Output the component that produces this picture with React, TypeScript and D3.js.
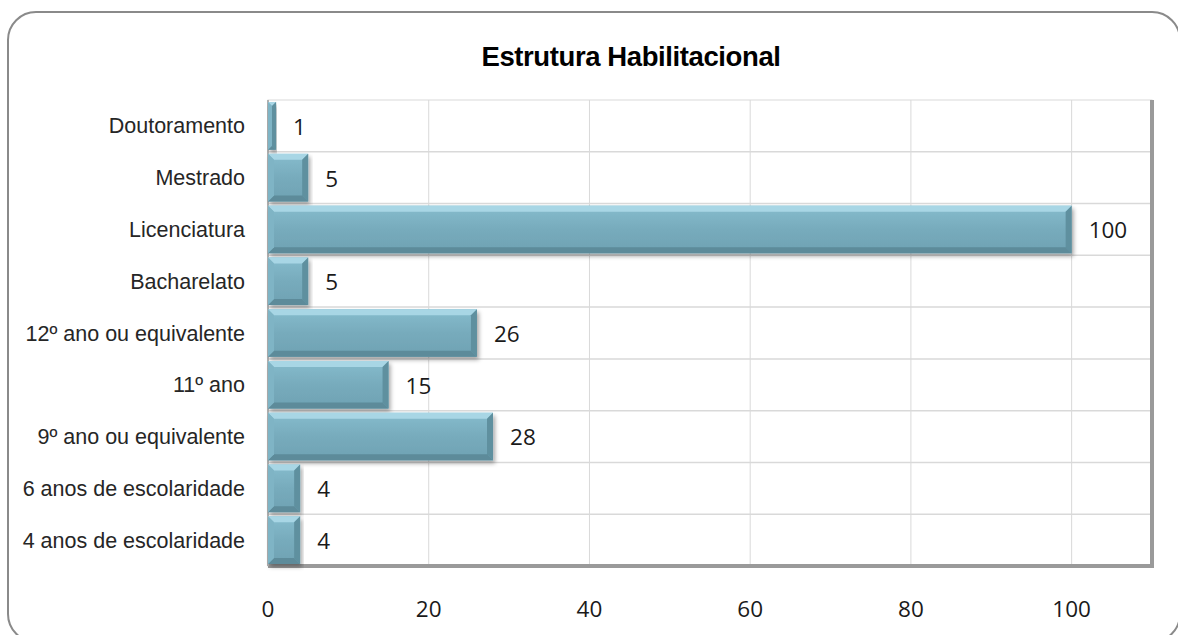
import React from "react";
import * as d3 from "d3";

const categories = [
  "Doutoramento",
  "Mestrado",
  "Licenciatura",
  "Bacharelato",
  "12º ano ou equivalente",
  "11º ano",
  "9º ano ou equivalente",
  "6 anos de escolaridade",
  "4 anos de escolaridade",
];
const values = [1, 5, 100, 5, 26, 15, 28, 4, 4];
const ticks = [0, 20, 40, 60, 80, 100];
const title = "Estrutura Habilitacional";

const W = 1178;
const H = 635;
const plot = { left: 268, right: 1152, top: 100, bottom: 566 };

export default function App() {
  const x = d3.scaleLinear().domain([0, 110]).range([plot.left, plot.right]);
  const y = d3
    .scaleBand<string>()
    .domain(categories)
    .range([plot.top, plot.bottom])
    .paddingInner(0.08)
    .paddingOuter(0.04);
  const rows = d3.scaleBand<string>().domain(categories).range([plot.top, plot.bottom]);
  const bev = 6;
  const arial = "Liberation Sans, Arial, sans-serif";
  const cal = "Open Sans, Lato, sans-serif";

  return (
    <svg width={W} height={H} style={{ position: "absolute", left: 0, top: 0 }}>
      <defs>
        <linearGradient id="face" x1="0" y1="0" x2="0" y2="1">
          <stop offset="0" stopColor="#86bccd" />
          <stop offset="0.5" stopColor="#77abbc" />
          <stop offset="1" stopColor="#6fa2b3" />
        </linearGradient>
        <filter id="sh" x="-5%" y="-20%" width="115%" height="150%">
          <feDropShadow dx="2" dy="3" stdDeviation="2" floodColor="#000" floodOpacity="0.35" />
        </filter>
      </defs>
      <rect x={0} y={0} width={W} height={H} fill="#fff" />
      <rect x={8} y={12} width={1172} height={630} rx={28} ry={28} fill="#fff" stroke="#8a8a8a" strokeWidth={2} />
      <text x={631} y={56} dy="0.35em" textAnchor="middle" fontFamily={arial} fontWeight="bold" fontSize={27.5} fill="#000" letterSpacing={-0.4}>
        {title}
      </text>
      {/* plot area */}
      <rect x={plot.left} y={plot.top} width={plot.right - plot.left} height={plot.bottom - plot.top} fill="#fff" stroke="#d9d9d9" strokeWidth={1} />
      {ticks.slice(1).map((t) => (
        <line key={"v" + t} x1={x(t)} x2={x(t)} y1={plot.top} y2={plot.bottom} stroke="#d9d9d9" strokeWidth={1} />
      ))}
      {categories.slice(1).map((c) => (
        <line key={"h" + c} x1={plot.left} x2={plot.right} y1={rows(c)!} y2={rows(c)!} stroke="#d9d9d9" strokeWidth={1.5} />
      ))}
      <line x1={plot.right} x2={plot.right} y1={plot.top} y2={plot.bottom + 2} stroke="#9a9a9a" strokeWidth={4} />
      <line x1={plot.left} x2={plot.right + 2} y1={plot.bottom} y2={plot.bottom} stroke="#9a9a9a" strokeWidth={4} />
      <line x1={plot.left} x2={plot.left} y1={plot.top} y2={plot.bottom} stroke="#b0b0b0" strokeWidth={2} />
      {categories.map((c, i) => {
        const x0 = x(0);
        const x1 = x(values[i]);
        const y0 = y(c)!;
        const h = y.bandwidth();
        const y1 = y0 + h;
        const w = x1 - x0;
        const b = Math.min(bev, w / 2);
        return (
          <g key={c}>
            <rect x={x0} y={y0} width={w} height={h} fill="url(#face)" filter="url(#sh)" />
            <polygon points={`${x0},${y0} ${x1},${y0} ${x1 - b},${y0 + b} ${x0 + b},${y0 + b}`} fill="#a8d6e5" />
            <polygon points={`${x1},${y0} ${x1},${y1} ${x1 - b},${y1 - b} ${x1 - b},${y0 + b}`} fill="#5f909f" />
            <polygon points={`${x0},${y1} ${x1},${y1} ${x1 - b},${y1 - b} ${x0 + b},${y1 - b}`} fill="#5d8b9a" />
            <polygon points={`${x0},${y0} ${x0 + b},${y0 + b} ${x0 + b},${y1 - b} ${x0},${y1}`} fill="#7fb4c5" />
            <text x={x1 + 17} y={y0 + h / 2 + 1} dy="0.35em" fontFamily={cal} fontSize={22.5} fill="#1a1a1a">
              {values[i]}
            </text>
          </g>
        );
      })}
      {categories.map((c) => (
        <text key={"l" + c} x={245} y={rows(c)! + rows.bandwidth() / 2} dy="0.35em" textAnchor="end" fontFamily={arial} fontSize={21.5} fill="#262626">
          {c}
        </text>
      ))}
      {ticks.map((t) => (
        <text key={"t" + t} x={x(t)} y={609} dy="0.35em" textAnchor="middle" fontFamily={cal} fontSize={22.5} fill="#1a1a1a">
          {t}
        </text>
      ))}
    </svg>
  );
}
